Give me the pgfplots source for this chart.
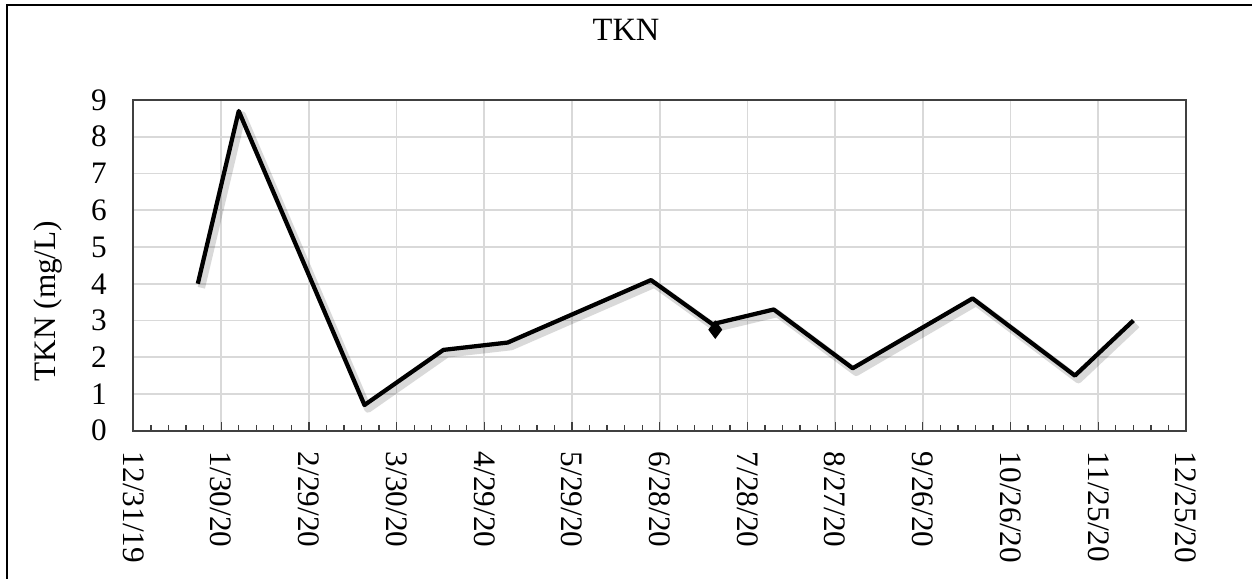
\documentclass[12pt,border=0pt]{standalone}
\usepackage{fontspec}
\setmainfont{Liberation Serif}
\usepackage{pgfplots}
\pgfplotsset{compat=1.18}

\definecolor{gridgray}{RGB}{217,217,217}
\definecolor{axisgray}{RGB}{64,64,64}

\newcommand{\chartfont}{\fontsize{12.5}{15}\selectfont}

\begin{document}
\begin{tikzpicture}[font=\chartfont]
\begin{axis}[
  at={(0,0)}, anchor=south west,
  scale only axis,
  width=421pt, height=132.3pt,
  xmin=0, xmax=360,
  ymin=0, ymax=9,
  xtick={0,30,...,360},
  xticklabels={12/31/19,1/30/20,2/29/20,3/30/20,4/29/20,5/29/20,6/28/20,7/28/20,8/27/20,9/26/20,10/26/20,11/25/20,12/25/20},
  minor x tick num=4,
  ytick={0,1,...,9},
  tick align=inside,
  xtick pos=bottom,
  ytick style={draw=none},
  xtick style={axisgray, line width=0.5pt},
  major tick length=3.6pt,
  minor tick length=2.4pt,
  tick label style={font=\chartfont},
  xticklabel style={rotate=-90, anchor=west},
  xticklabel shift=4.3pt,
  yticklabel style={xshift=-6.5pt},
  /pgf/number format/assume math mode=true,
  grid=major,
  major grid style={gridgray, line width=0.7pt},
  axis line style={axisgray, line width=0.8pt},
  title={TKN},
  title style={font=\fontsize{13}{15.6}\selectfont, at={(axis description cs:0.468,1.166)}, anchor=center, inner sep=0pt},
  ylabel={TKN (mg/L)},
  ylabel style={font=\chartfont, at={(axis description cs:-0.0812,0.392)}, anchor=center},
]
% soft shadow
\addplot[black, opacity=0.15, line width=3pt, line join=round, shift={(1.4pt,-1.6pt)}] coordinates {
(22,4.0) (36,8.7) (79,0.7) (106,2.2) (128,2.4) (177,4.1) (198,2.9) (219,3.3) (246,1.7) (287,3.6) (322,1.5) (342,3.0)
};
\addplot[black, line width=1.7pt, line join=round] coordinates {
(22,4.0) (36,8.7) (79,0.7) (106,2.2) (128,2.4) (177,4.1) (198,2.9) (219,3.3) (246,1.7) (287,3.6) (322,1.5) (342,3.0)
};
\addplot[only marks, mark=diamond*, mark size=3.4pt, black] coordinates {(199,2.75)};
\end{axis}
\draw[black, line width=0.8pt] (-50.6pt,-70pt) -- (-50.6pt,170.3pt) -- (460pt,170.3pt);
\pgfresetboundingbox
\useasboundingbox (-53.4pt,-59.3pt) rectangle (447.4pt,172.3pt);
\end{tikzpicture}
\end{document}
